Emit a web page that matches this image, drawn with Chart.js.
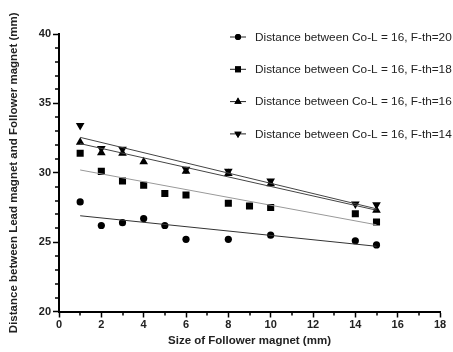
<!DOCTYPE html>
<html>
<head>
<meta charset="utf-8">
<script src="https://cdn.jsdelivr.net/npm/chart.js@4/dist/chart.umd.min.js"></script>
<style>
  html, body { margin: 0; padding: 0; background: #fff; }
  #wrap { width: 453px; height: 352px; }
</style>
</head>
<body>
<div id="wrap"><canvas id="magnetChart"></canvas></div>
<script>
// series labels
const seriesNames = [
    'Distance between Co-L = 16, F-th=20',
    'Distance between Co-L = 16, F-th=18',
    'Distance between Co-L = 16, F-th=16',
    'Distance between Co-L = 16, F-th=14'
];

// F-th=20 (circles)
const th20X = [1, 2, 3, 4, 5, 6, 8, 10, 14, 15];
const th20Y = [27.9, 26.2, 26.4, 26.7, 26.2, 25.2, 25.2, 25.5, 25.1, 24.8];
// F-th=18 (squares)
const th18X = [1, 2, 3, 4, 5, 6, 8, 9, 10, 14, 15];
const th18Y = [31.4, 30.1, 29.4, 29.1, 28.5, 28.4, 27.8, 27.6, 27.5, 27.05, 26.45];
// F-th=16 (triangles up)
const th16X = [1, 2, 3, 4, 6, 8, 10, 15];
const th16Y = [32.2, 31.45, 31.4, 30.8, 30.1, 29.95, 29.2, 27.3];
// F-th=14 (triangles down)
const th14X = [1, 2, 3, 6, 8, 10, 14, 15];
const th14Y = [33.4, 31.75, 31.7, 30.25, 30.1, 29.4, 27.75, 27.7];

// fitted trend lines at x=1 and x=15
const fitX = [1, 15];
const fit20 = [26.9, 24.7];
const fit18 = [30.2, 26.25];
const fit16 = [32.1, 27.3];
const fit14 = [32.55, 27.4];

const xTicks = [0, 2, 4, 6, 8, 10, 12, 14, 16, 18];
const yTicks = [20, 25, 30, 35, 40];

const FONT = '"Liberation Sans", Arial, sans-serif';

function pts(xs, ys) {
    return xs.map((x, i) => ({ x: x, y: ys[i] }));
}

const markers = [
    { pointStyle: 'circle', radius: 3.6, rotation: 0 },
    { pointStyle: 'rect', radius: 5, rotation: 0 },
    { pointStyle: 'triangle', radius: 5, rotation: 0 },
    { pointStyle: 'triangle', radius: 5, rotation: 180 }
];

function scatterSet(i, xs, ys) {
    return {
        type: 'scatter',
        label: seriesNames[i],
        data: pts(xs, ys),
        pointStyle: markers[i].pointStyle,
        rotation: markers[i].rotation,
        pointRadius: markers[i].radius,
        backgroundColor: '#000',
        borderColor: '#000',
        borderWidth: 0,
        showLine: false
    };
}

function fitSet(ys, color) {
    return {
        type: 'line',
        label: 'fit',
        data: pts(fitX, ys),
        borderColor: color,
        borderWidth: 1,
        pointRadius: 0,
        fill: false
    };
}

// minor ticks (odd values) drawn shorter than the major ones
const minorTicks = {
    id: 'minorTicks',
    afterDraw(chart) {
        const ctx = chart.ctx;
        const xs = chart.scales.x, ys = chart.scales.y;
        ctx.save();
        ctx.strokeStyle = '#000';
        ctx.lineWidth = 1.5;
        ctx.beginPath();
        for (let v = 1; v < 18; v += 2) {
            const px = Math.round(xs.getPixelForValue(v));
            ctx.moveTo(px, ys.bottom);
            ctx.lineTo(px, ys.bottom + 4);
        }
        for (let v = 21; v < 40; v++) {
            if (v % 5 === 0) continue;
            const py = Math.round(ys.getPixelForValue(v));
            ctx.moveTo(xs.left - 4, py);
            ctx.lineTo(xs.left, py);
        }
        ctx.stroke();
        ctx.restore();
    }
};

// legend inside the plot, top right
const insideLegend = {
    id: 'insideLegend',
    afterDraw(chart) {
        const ctx = chart.ctx;
        const legendMarkers = [
            { pointStyle: 'circle', radius: 3, rotation: 0 },
            { pointStyle: 'rect', radius: 4.2, rotation: 0 },
            { pointStyle: 'triangle', radius: 4.2, rotation: 0 },
            { pointStyle: 'triangle', radius: 4.2, rotation: 180 }
        ];
        ctx.save();
        seriesNames.forEach((name, i) => {
            const y = 37 + i * 32.3;
            ctx.strokeStyle = '#222';
            ctx.lineWidth = 1;
            ctx.beginPath();
            ctx.moveTo(230, y);
            ctx.lineTo(246, y);
            ctx.stroke();
            ctx.fillStyle = '#000';
            Chart.helpers.drawPoint(ctx, Object.assign({ borderWidth: 0 }, legendMarkers[i]), 238, y);
            ctx.fill();
            ctx.fillStyle = '#222';
            ctx.font = '11.8px ' + FONT;
            ctx.textBaseline = 'middle';
            ctx.textAlign = 'left';
            ctx.fillText(name, 255, y + 0.5);
        });
        ctx.restore();
    }
};

const ctx = document.getElementById('magnetChart').getContext('2d');
const magnetChart = new Chart(ctx, {
    data: {
        datasets: [
            fitSet(fit20, '#333'),
            fitSet(fit18, '#999'),
            fitSet(fit16, '#444'),
            fitSet(fit14, '#444'),
            scatterSet(0, th20X, th20Y),
            scatterSet(1, th18X, th18Y),
            scatterSet(2, th16X, th16Y),
            scatterSet(3, th14X, th14Y)
        ]
    },
    options: {
        responsive: true,
        maintainAspectRatio: false,
        animation: false,
        layout: {
            padding: { left: 4, right: 13, top: 34, bottom: 4 }
        },
        plugins: {
            legend: { display: false },
            tooltip: { enabled: false }
        },
        scales: {
            x: {
                type: 'linear',
                min: 0,
                max: 18,
                afterBuildTicks(scale) {
                    scale.ticks = xTicks.map(v => ({ value: v }));
                },
                afterFit(scale) {
                    scale.height = 36.5;
                },
                ticks: {
                    autoSkip: false,
                    maxRotation: 0,
                    padding: 1,
                    color: '#222',
                    font: { family: FONT, size: 11, weight: 'bold' }
                },
                grid: {
                    drawOnChartArea: false,
                    drawTicks: true,
                    tickLength: 6,
                    tickWidth: 1.5,
                    tickColor: '#000'
                },
                border: { color: '#000', width: 2 },
                title: {
                    display: true,
                    text: 'Size of Follower magnet (mm)',
                    color: '#222',
                    padding: { top: 2, bottom: 0 },
                    font: { family: FONT, size: 11.5, weight: 'bold' }
                }
            },
            y: {
                type: 'linear',
                min: 20,
                max: 40,
                afterBuildTicks(scale) {
                    scale.ticks = yTicks.map(v => ({ value: v }));
                },
                afterFit(scale) {
                    scale.width = 55;
                },
                ticks: {
                    autoSkip: false,
                    padding: 2,
                    color: '#222',
                    font: { family: FONT, size: 11, weight: 'bold' }
                },
                grid: {
                    drawOnChartArea: false,
                    drawTicks: true,
                    tickLength: 6,
                    tickWidth: 1.5,
                    tickColor: '#000'
                },
                border: { color: '#000', width: 2 },
                title: {
                    display: true,
                    text: 'Distance between Lead magnet and Follower magnet (mm)',
                    color: '#222',
                    padding: { top: 3, bottom: 8 },
                    font: { family: FONT, size: 11.5, weight: 'bold' }
                }
            }
        }
    },
    plugins: [minorTicks, insideLegend]
});
</script>
</body>
</html>
